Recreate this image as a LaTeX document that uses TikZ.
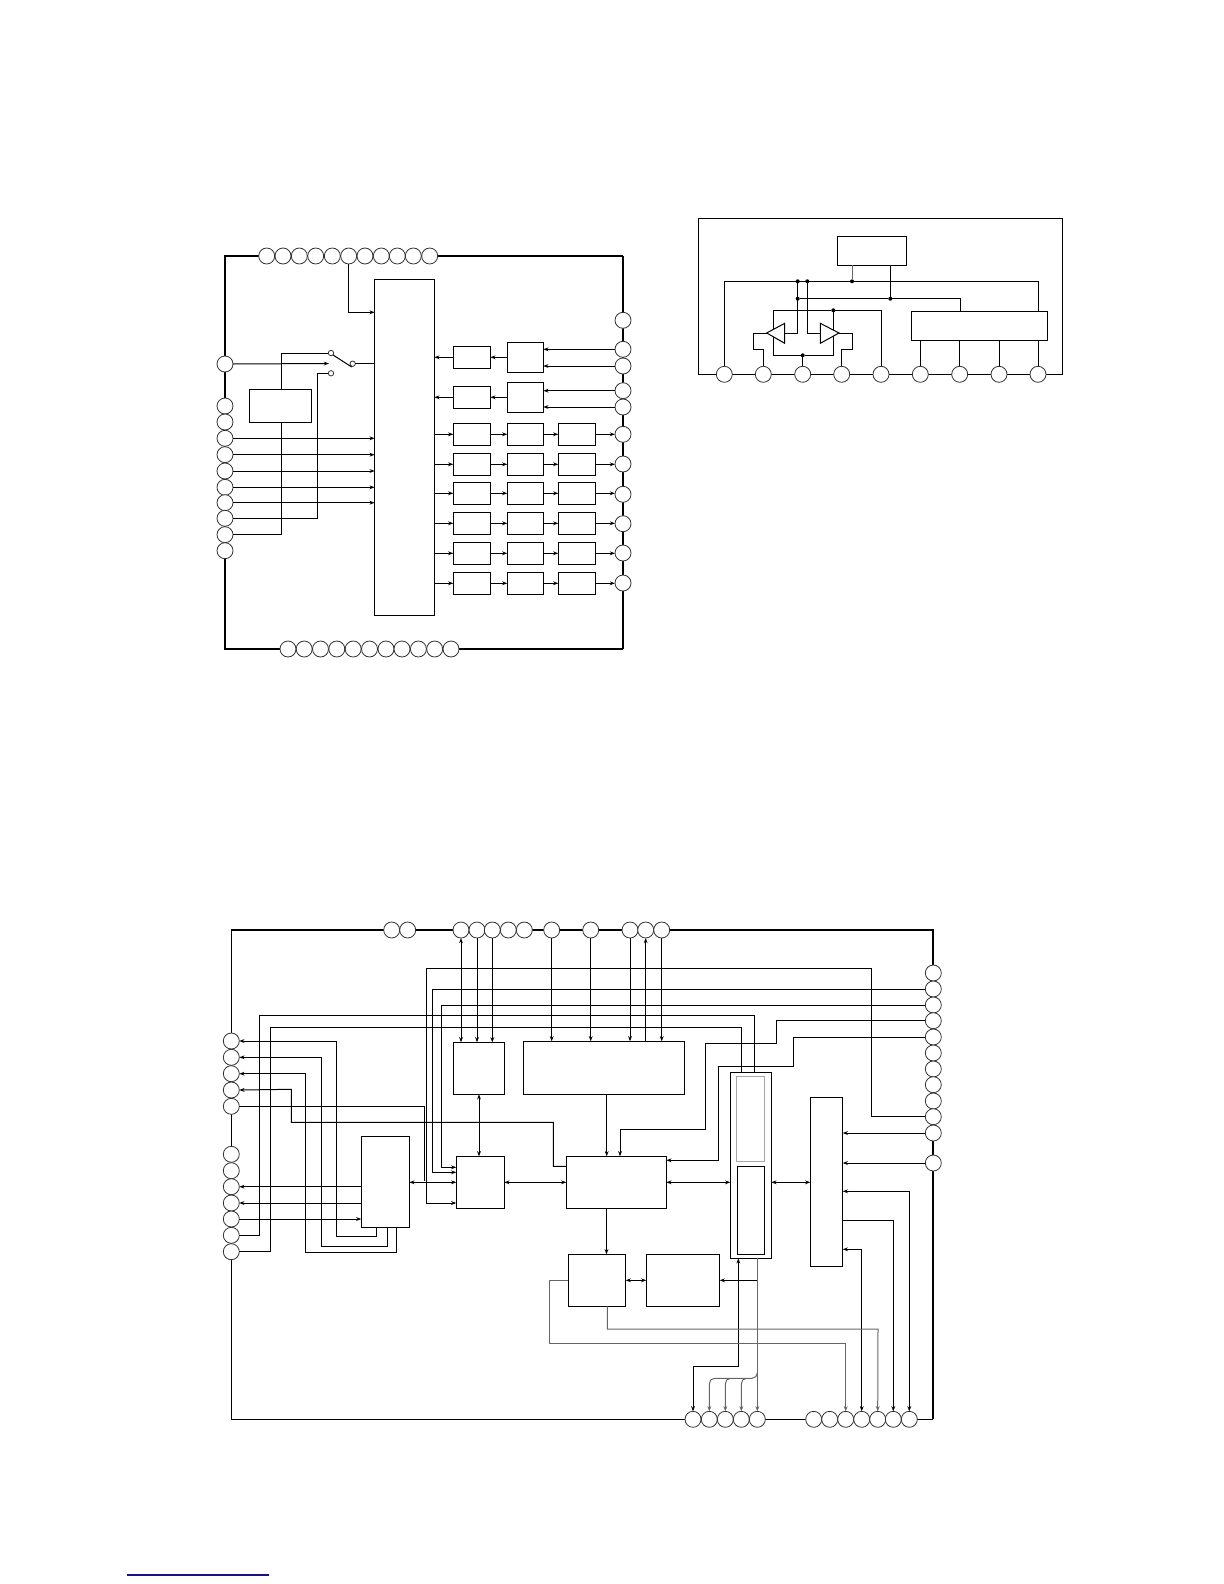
\documentclass[tikz,border=0pt]{standalone}
\usepackage{tikz}
\usetikzlibrary{positioning,arrows.meta,calc}
\definecolor{linkblue}{RGB}{20,20,130}
\tikzset{
  wire/.style={line width=0.5pt},
  gwire/.style={wire,draw=black!60},
  frameline/.style={line width=1.1pt},
  arr/.style={wire,-{Stealth[length=2.6pt,width=1.9pt]}},
  garr/.style={arr,draw=black!60},
  biarr/.style={wire,{Stealth[length=2.6pt,width=1.9pt]}-{Stealth[length=2.6pt,width=1.9pt]}},
  pinc/.style={circle,draw=black!80,line width=0.4pt,fill=white,minimum size=8pt,inner sep=0pt,outer sep=0pt},
  swc/.style={circle,draw=black!80,line width=0.4pt,fill=white,minimum size=2.7pt,inner sep=0pt,outer sep=0pt},
  dotc/.style={circle,fill=black,minimum size=2pt,inner sep=0pt,outer sep=0pt},
  blockbox/.style={rectangle,draw,wire,fill=white,inner sep=0pt,outer sep=0pt}
}
\newcommand{\blk}[6][]{\node[blockbox,#1,minimum width={((#5)-(#3))*0.5pt},minimum height={((#6)-(#4))*0.5pt}] (#2) at ({((#3)+(#5))/2},{((#4)+(#6))/2}) {};}
\begin{document}
\begin{tikzpicture}[x=0.5pt,y=-0.5pt]
\useasboundingbox (0,0) rectangle (1224,1584);
\draw[frameline] (623,256) -- (225,256) -- (225,649) -- (623,649);
\draw[wire,line width=0.7pt] (623,256) -- (623,649);
\foreach \x [count=\i] in {266.7,283,299.3,315.7,332.3,348.7,365,381.3,397.3,413.3,429.7}
  \node[pinc] (at\i) at (\x,256) {};
\foreach \y [count=\i] in {364,406,422,438.3,454.7,471,487.3,502.7,518.3,534.7,550.7}
  \node[pinc] (al\i) at (225,\y) {};
\foreach \x [count=\i] in {288,304.2,320.5,336.8,353.2,369.5,386,402,418.4,434.7,451}
  \node[pinc] (ab\i) at (\x,649) {};
\foreach \y [count=\i] in {320.3,349.3,366,390.7,407,434.3,464,494.3,523.7,553,583}
  \node[pinc] (ar\i) at (623,\y) {};
\blk{am}{374.7}{279.3}{434.3}{615}
\blk{as}{249.3}{389.3}{311.3}{422.3}
\node[swc] (swa) at (331,353) {};
\node[swc] (swb) at (331,373.3) {};
\node[swc] (swm) at (352.7,363.7) {};
\coordinate (swarm) at (351.7,367);
\coordinate (swin) at (329,363.5);
\draw[arr] (at6.south) |- (am.west |- 0,312.3);
\draw[arr] (al1.east) -- (swin);
\draw[wire] (swa.south east) -- (swarm);
\draw[wire] (swm.east) -- (swm.east -| am.west);
\draw[wire] (as.north -| 281.7,0) |- (swa.west);
\draw[wire] (as.south -| 281.7,0) |- (al10.east);
\draw[wire] (al9.east) -| (317.3,373.3) -- (swb.west);
\foreach \p in {4,5,6,7,8}
  \draw[arr] (al\p.east) -- (al\p.east -| am.west);
\blk{ra1}{453.3}{346.3}{490.3}{368.3}
\blk{rb1}{507.3}{342.3}{543.3}{372.3}
\blk{ra2}{453.3}{386.3}{490.3}{408.3}
\blk{rb2}{507.3}{382.3}{543.3}{412.3}
\draw[arr] (ar2.west) -- (ar2.west -| rb1.east);
\draw[arr] (ar3.west) -- (ar3.west -| rb1.east);
\draw[arr] (ar4.west) -- (ar4.west -| rb2.east);
\draw[arr] (ar5.west) -- (ar5.west -| rb2.east);
\foreach \r in {1,2}{
  \draw[arr] (rb\r.west) -- (ra\r.east);
  \draw[arr] (ra\r.west) -- (ra\r.west -| am.east);
}
\foreach \y/\p [count=\i from 3] in {434.3/6,464.3/7,493.3/8,523.3/9,553.3/10,583.3/11}{
  \blk{ra\i}{453.3}{\y-11}{490.3}{\y+11}
  \blk{rb\i}{507.3}{\y-11}{543.3}{\y+11}
  \blk{rc\i}{558.3}{\y-11}{595.3}{\y+11}
  \draw[arr] (am.east |- ra\i) -- (ra\i.west);
  \draw[arr] (ra\i.east) -- (rb\i.west);
  \draw[arr] (rb\i.east) -- (rc\i.west);
  \draw[arr] (rc\i.east) -- (rc\i.east -| ar\p.west);
}

\draw[wire] (698.3,218.3) rectangle (1062.7,374.3);
\foreach \x [count=\i] in {724.3,763.3,802.7,841.7,881,920.3,959.7,999,1038}
  \node[pinc] (bp\i) at (\x,374.3) {};
\blk{bt}{837.3}{236.3}{906.7}{265.3}
\blk{bw}{911.3}{311.3}{1047.7}{340.3}
\coordinate (ampl) at (766.7,333);
\coordinate (ampr) at (839,333);
\node[dotc] (da) at (797.7,281.3) {};
\node[dotc] (db) at (807.3,281.3) {};
\node[dotc] (dc) at (852,281.3) {};
\node[dotc] (dd) at (797.7,298.7) {};
\node[dotc] (de) at (890.3,298.7) {};
\node[dotc] (df) at (833.3,310.3) {};
\node[dotc] (dg) at (802.7,355.3) {};
\draw[wire] (bp1.north) |- (dc) -| (bw.north -| bp9);
\draw[gwire] (bt.south -| dc) -- (dc);
\draw[wire] (bt.south -| de) -- (de);
\draw[wire] (dd) -- (de) -| (bw.north -| 960.3,0);
\draw[wire] (da) |- (ampl);
\draw[wire] (db) |- (ampr);
\draw[wire] (bp5.north) |- (df) -| (773.3,355.3) -- (dg);
\draw[wire] (df) |- (dg);
\draw[wire] (dg) -- (bp3.north);
\draw[wire] (ampl) -- (753.3,333) |- (763.3,349) -- (bp2.north);
\draw[wire] (ampr) -- (852.3,333) |- (841.7,349) -- (bp4.north);
\draw[wire,fill=white] (ampl) -- (784.7,323.3) -- (784.7,343.3) -- cycle;
\draw[wire,fill=white] (ampr) -- (820.3,323.3) -- (820.3,343.3) -- cycle;
\foreach \p in {6,7,8,9}
  \draw[wire] (bw.south -| bp\p) -- (bp\p.north);

\draw[frameline] (231.3,930) -- (933.3,930) -- (933.3,1419.3);
\draw[wire,line width=0.7pt] (231.3,930) -- (231.3,1419.3) -- (933.3,1419.3);
\foreach \x [count=\i] in {391.7,407.7,461,477,492.3,508.3,524.3,551.7,590.7,630,645.7,661.7}
  \node[pinc] (ct\i) at (\x,930) {};
\foreach \y [count=\i] in {973,989,1005,1020.7,1037,1053,1069,1084.7,1101,1116.7,1133,1163}
  \node[pinc] (cr\i) at (933.3,\y) {};
\foreach \y [count=\i] in {1041,1057.3,1073.7,1090,1106.3,1154.3,1170.7,1186.7,1203,1219,1235.3,1251.7}
  \node[pinc] (cl\i) at (231.3,\y) {};
\foreach \x [count=\i] in {693,709.3,725.3,741.3,757.3,813.7,829.7,845.7,861.7,877.7,893.3,909.3}
  \node[pinc] (cb\i) at (\x,1419.3) {};
\blk{ca}{453.3}{1042.3}{504.3}{1094.3}
\blk{cc}{523.3}{1041.3}{684.3}{1094.3}
\blk{ci}{361.3}{1136.3}{409.3}{1227.3}
\blk{cd}{456.3}{1156.3}{504.3}{1208.3}
\blk{ce}{566.3}{1156.3}{666.3}{1208.3}
\blk{cf}{730.3}{1072.3}{771.3}{1258.3}
\blk[draw=gray!70]{cfa}{736.7}{1076.3}{764.7}{1161}
\blk{cfb}{737.3}{1166.3}{764.7}{1254.3}
\blk{cg}{810.3}{1097.3}{842.7}{1266.3}
\blk{ch}{568.3}{1254.3}{625.7}{1306.3}
\blk{cj}{646.3}{1254.3}{719.7}{1306.3}
\draw[biarr] (ct3.south) -- (ct3.south |- ca.north);
\foreach \p in {4,5}
  \draw[arr] (ct\p.south) -- (ct\p.south |- ca.north);
\foreach \p in {8,9,10,12}
  \draw[arr] (ct\p.south) -- (ct\p.south |- cc.north);
\draw[arr] (ct11.south |- cc.north) -- (ct11.south);
\draw[biarr] (ca.south -| 479,0) -- (cd.north -| 479,0);
\draw[arr] (cc.south -| 606.7,0) -- (ce.north -| 606.7,0);
\draw[wire] (cr10.west) -| (871.3,968.3) -- (426.3,968.3);
\draw[arr] (426.3,968.3) |- (cd.west |- 0,1203);
\draw[arr] (cr2.west) -| (432.3,1172.3) -- (cd.west |- 0,1172.3);
\draw[arr] (cr3.west) -| (441.3,1167.3) -- (cd.west |- 0,1167.3);
\draw[wire] (cl11.east) -| (259.3,1015.3) -| (cf.north -| 754.3,0);
\draw[wire] (cl12.east) -| (270.3,1027.3) -| (cf.north -| 741.3,0);
\draw[arr] (cr4.west) -| (776.7,1043.3) -| (705.3,1129.3) -| (620,1156.3);
\draw[arr] (cr5.west) -| (793.3,1066.7) -| (718.3,1160.3) -- (ce.east |- 0,1160.3);
\draw[arr] (cr11.west) -- (cr11.west -| cg.east);
\draw[arr] (cr12.west) -- (cr12.west -| cg.east);
\draw[biarr] (cb12.north) |- (cg.east |- 0,1191.3);
\draw[arr] (cg.east |- 0,1220.3) -| (cb11.north);
\draw[biarr] (cb9.north) |- (cg.east |- 0,1249.3);
\draw[arr] (ci.south -| 376.7,0) |- (336.3,1236.3) |- (cl1.east);
\draw[arr] (ci.south -| 387.7,0) |- (321.3,1246.3) |- (cl2.east);
\draw[arr] (ci.south -| 396.7,0) |- (305.3,1252.3) |- (cl3.east);
\draw[arr] (ce.west |- 0,1166.3) -| (553.3,1122.3) -| (291.3,1089.3) -- (cl4.east);
\draw[wire] (cl5.east) -| (424.3,1181.3);
\draw[biarr] (ci.east |- cd) -- (cd.west);
\draw[arr] (ci.west |- cl8) -- (cl8.east);
\draw[arr] (ci.west |- cl9) -- (cl9.east);
\draw[arr] (cl10.east) -- (cl10.east -| ci.west);
\draw[biarr] (cd.east) -- (ce.west);
\draw[biarr] (ce.east) -- (cf.west |- ce);
\draw[biarr] (cf.east |- ce) -- (cg.west |- ce);
\draw[arr] (ce.south -| 606.5,0) -- (ch.north -| 606.5,0);
\draw[biarr] (ch.east) -- (cj.west);
\draw[garr] (cf.south -| cb5) -- (cb5.north);
\draw[arr] (cb5 |- cj.east) -- (cj.east);
\draw[garr] (752,1378.3) -- (714.3,1378.3) to[out=180,in=90] (cb2.north |- 0,1384) -- (cb2.north);
\draw[garr] (730.3,1378.3) to[out=180,in=90] (cb3.north |- 0,1384) -- (cb3.north);
\draw[garr] (746.3,1378.3) to[out=180,in=90] (cb4.north |- 0,1384) -- (cb4.north);
\draw[gwire] (752,1378.3) to[out=0,in=-90] (cb5.north |- 0,1373);
\draw[biarr] (cb1.north) |- (738.3,1366) -- (cf.south -| 738.3,0);
\draw[garr] (ch.south -| 607.3,0) |- (878,1329) -- (cb10.north);
\draw[garr] (ch.west) -| (549.3,1343.3) -| (cb8.north);

\coordinate (rulea) at (127.3,1575);
\coordinate (ruleb) at (269,1575);
\draw[linkblue,line width=0.6pt] (rulea) -- (ruleb);
\end{tikzpicture}
\end{document}
